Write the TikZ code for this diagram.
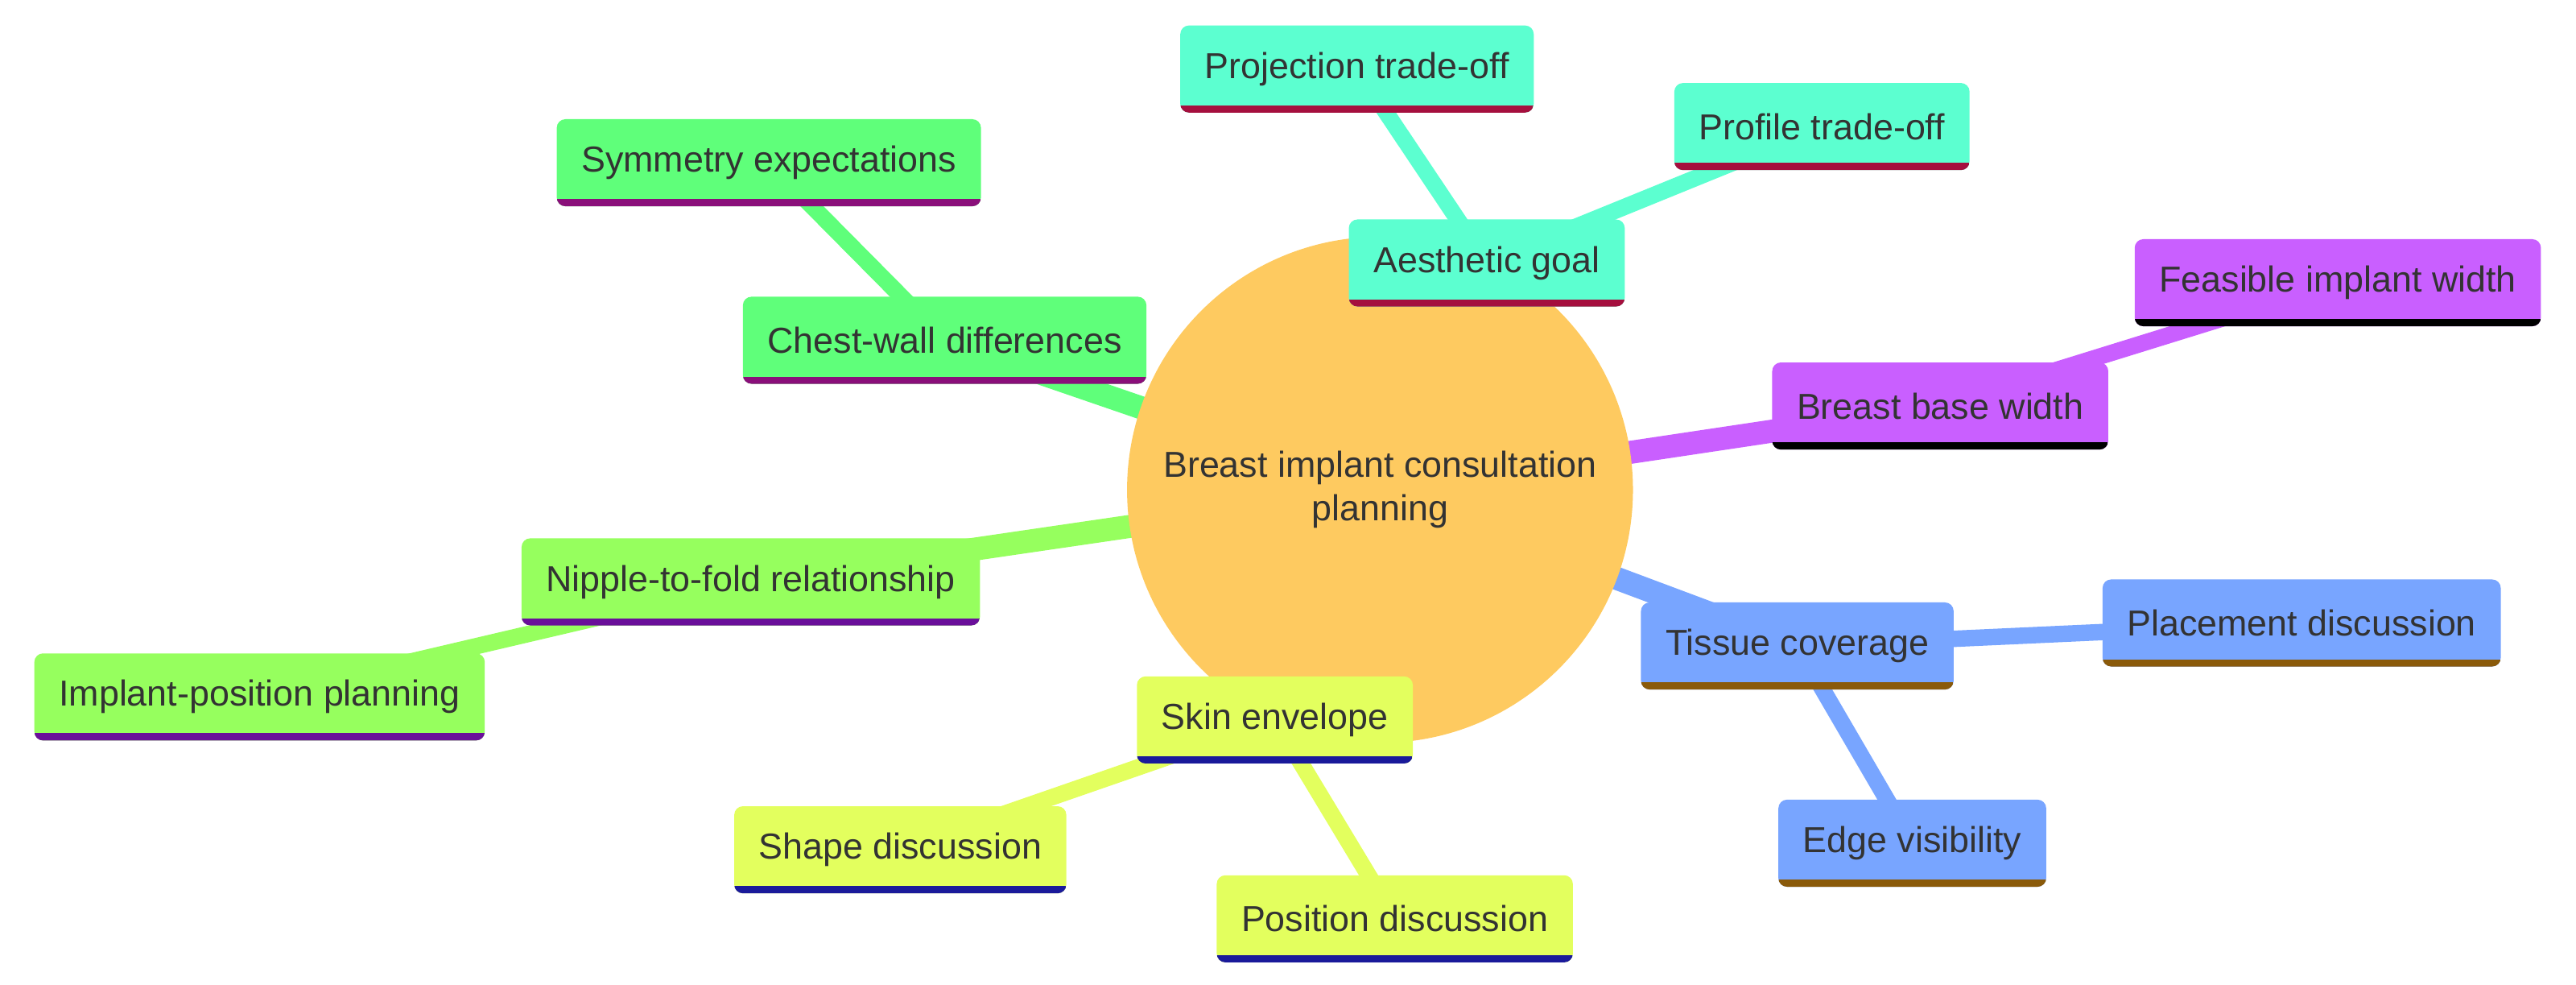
\documentclass[tikz,border=0pt]{standalone}
\usepackage{fontspec}
\setmainfont{Liberation Sans}
\usetikzlibrary{backgrounds}
\definecolor{rootfill}{HTML}{FECA60}
\definecolor{aesfill}{HTML}{5CFFD0}\definecolor{aesline}{HTML}{A50F3E}
\definecolor{chestfill}{HTML}{5FFF7A}\definecolor{chestline}{HTML}{8A0F7A}
\definecolor{nipfill}{HTML}{96FF5E}\definecolor{nipline}{HTML}{6A0F9A}
\definecolor{basefill}{HTML}{C95FFF}\definecolor{baseline}{HTML}{3A9A1A}
\definecolor{tisfill}{HTML}{78A5FF}\definecolor{tisline}{HTML}{8A5A0A}
\definecolor{skinfill}{HTML}{E3FF5E}\definecolor{skinline}{HTML}{1A1A9A}
\definecolor{txt}{HTML}{333333}
\tikzset{
  Topic/.style 2 args={rectangle, rounded corners=3pt, fill=#1, text=txt, inner xsep=0.3cm,
    minimum height=1.06cm, font=\fontsize{12.5}{15}\selectfont,
    path picture={\draw[line width=5pt, #2] (path picture bounding box.south west) -- (path picture bounding box.south east);}},
  Root/.style={circle, fill=rootfill, text=txt, minimum size=6.16cm, align=center, font=\fontsize{12.5}{15}\selectfont},
  trunk/.style={line width=0.28cm, #1},
  twig/.style={line width=0.2cm, #1}
}
\begin{document}
\begin{tikzpicture}[x=0.02cm, y=-0.02cm]
    \useasboundingbox (0,0) rectangle (1568,599);
    \node[Root] (root) at (840,298) {Breast implant consultation\\planning};
    \path
    (905,160) node[Topic={aesfill}{aesline}] (aes) {Aesthetic goal}
    (826,42) node[Topic={aesfill}{aesline}] (proj) {Projection trade-off}
    (1109,77) node[Topic={aesfill}{aesline}] (prof) {Profile trade-off}
    (575,207) node[Topic={chestfill}{chestline}] (chest) {Chest-wall differences}
    (468,99) node[Topic={chestfill}{chestline}] (sym) {Symmetry expectations}
    (1181,247) node[Topic={basefill}{baseline}] (base) {Breast base width}
    (1423,172) node[Topic={basefill}{baseline}] (feas) {Feasible implant width}
    (457,354) node[Topic={nipfill}{nipline}] (nip) {Nipple-to-fold relationship}
    (158,424) node[Topic={nipfill}{nipline}] (implpos) {Implant-position planning}
    (1094,393) node[Topic={tisfill}{tisline}] (tis) {Tissue coverage}
    (1401,379) node[Topic={tisfill}{tisline}] (place) {Placement discussion}
    (1164,513) node[Topic={tisfill}{tisline}] (edge) {Edge visibility}
    (776,438) node[Topic={skinfill}{skinline}] (skin) {Skin envelope}
    (548,517) node[Topic={skinfill}{skinline}] (shape) {Shape discussion}
    (849,559) node[Topic={skinfill}{skinline}] (posd) {Position discussion};

    \begin{scope}[on background layer]
    \draw[trunk=aesfill] (root.center) -- (aes.center);
    \draw[twig=aesfill] (aes.center) -- (proj.center);
    \draw[twig=aesfill] (aes.center) -- (prof.center);
    \draw[trunk=chestfill] (root.center) -- (chest.center);
    \draw[twig=chestfill] (chest.center) -- (sym.center);
    \draw[trunk=basefill] (root.center) -- (base.center);
    \draw[twig=basefill] (base.center) -- (feas.center);
    \draw[trunk=nipfill] (root.center) -- (nip.center);
    \draw[twig=nipfill] (nip.center) -- (implpos.center);
    \draw[trunk=tisfill] (root.center) -- (tis.center);
    \draw[twig=tisfill] (tis.center) -- (place.center);
    \draw[twig=tisfill] (tis.center) -- (edge.center);
    \draw[trunk=skinfill] (root.center) -- (skin.center);
    \draw[twig=skinfill] (skin.center) -- (shape.center);
    \draw[twig=skinfill] (skin.center) -- (posd.center);
    \end{scope}
\end{tikzpicture}
\end{document}
